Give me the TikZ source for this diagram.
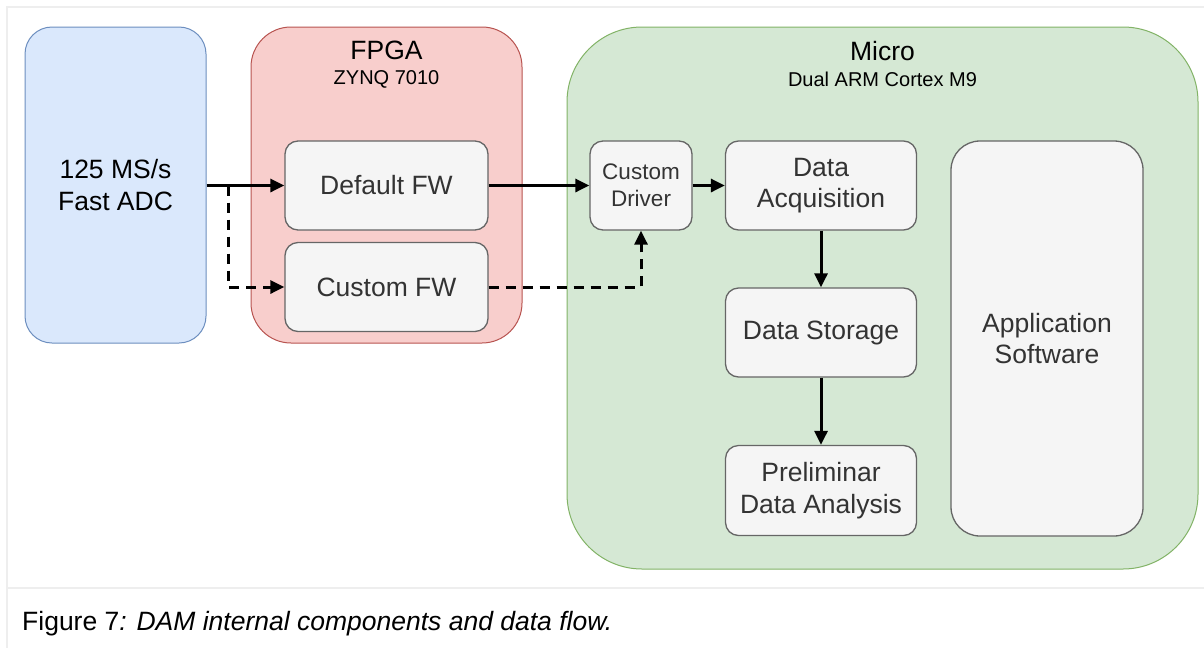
\documentclass[tikz,border=0pt]{standalone}
\usepackage{fontspec}
\setmainfont{Liberation Sans}
\usetikzlibrary{arrows.meta}
\definecolor{adcfill}{HTML}{DAE8FC}
\definecolor{adcline}{HTML}{6C8EBF}
\definecolor{fpgafill}{HTML}{F8CECC}
\definecolor{fpgaline}{HTML}{B85450}
\definecolor{microfill}{HTML}{D5E8D4}
\definecolor{microline}{HTML}{82B366}
\definecolor{innerfill}{HTML}{F5F5F5}
\definecolor{innerline}{HTML}{666666}
\definecolor{innertext}{HTML}{333333}
\definecolor{framecol}{HTML}{EEEEEE}
\newcommand{\bigtxt}{\fontsize{26.5}{31.5}\selectfont}
\newcommand{\midtxt}{\fontsize{22.5}{27}\selectfont}
\newcommand{\smalltxt}{\fontsize{20}{24}\selectfont}
\newcommand{\captxt}{\fontsize{26.5}{30}\selectfont}
\tikzset{
  outerbox/.style={draw, line width=1pt, inner sep=0pt, align=center},
  innerbox/.style={draw=innerline, fill=innerfill, line width=1.3pt, rounded corners=13pt,
    inner sep=0pt, align=center, text=innertext, font=\bigtxt},
  arr/.style={line width=3pt, -{Triangle[length=14pt,width=13pt]}},
  dasharr/.style={arr, dash pattern=on 10pt off 7pt},
  titletxt/.style={inner sep=0pt, align=center}
}
\begin{document}
\begin{tikzpicture}[x=1pt,y=-1pt]
\useasboundingbox (0,0) rectangle (1204,648);
\fill[white] (0,0) rectangle (1204,648);
% frame
\draw[framecol, line width=2.5pt] (7,648) -- (7,7) -- (1204,7);
\draw[framecol, line width=2.5pt] (7,588) -- (1204,588);
% outer containers
\node[outerbox, draw=adcline, fill=adcfill, rounded corners=27pt, minimum width=181pt, minimum height=316pt, font=\bigtxt]
  (adc) at (115.5,185) {125 MS/s\\Fast ADC};
\node[outerbox, draw=fpgaline, fill=fpgafill, rounded corners=40pt, minimum width=271pt, minimum height=316pt]
  (fpga) at (386.5,185) {};
\node[outerbox, draw=microline, fill=microfill, rounded corners=75pt, minimum width=631pt, minimum height=542pt]
  (micro) at (882.5,298) {};
% titles
\node[titletxt, font=\bigtxt] (fpgat) at (386.5,50) {FPGA};
\node[titletxt, font=\smalltxt] (fpgas) at (386.5,79) {ZYNQ 7010};
\node[titletxt, font=\bigtxt] (microt) at (882.5,51) {Micro};
\node[titletxt, font=\smalltxt] (micros) at (882.5,79) {Dual ARM Cortex M9};
% inner boxes
\node[innerbox, minimum width=203pt, minimum height=89pt] (dfw) at (386.5,185.5) {Default FW};
\node[innerbox, minimum width=203pt, minimum height=89pt] (cfw) at (386.5,287) {Custom FW};
\node[innerbox, minimum width=102pt, minimum height=89pt, font=\midtxt] (drv) at (641,185.5) {Custom\\Driver};
\node[innerbox, minimum width=191pt, minimum height=89pt] (acq) at (821,185.5) {Data\\Acquisition};
\node[innerbox, minimum width=191pt, minimum height=89pt] (sto) at (821,332.5) {Data Storage};
\node[innerbox, minimum width=191pt, minimum height=90pt] (pre) at (821,490.5) {Preliminar\\Data Analysis};
\node[innerbox, rounded corners=29pt, minimum width=192pt, minimum height=395pt] (app) at (1047,338.5) {Application\\Software};
% connectors
\coordinate (split) at (228.5,185.5);
\draw[arr] (adc.east |- dfw.west) -- (dfw.west);
\draw[dasharr] (split) |- (cfw.west);
\draw[arr] (dfw.east) -- (drv.west);
\draw[dasharr] (cfw.east) -| (drv.south);
\draw[arr] (drv.east) -- (acq.west);
\draw[arr] (acq.south) -- (sto.north);
\draw[arr] (sto.south) -- (pre.north);
% caption
\node[anchor=base west, inner sep=0pt, font=\captxt] (cap) at (22,630) {Figure 7\textit{: DAM internal components and data flow.}};
\end{tikzpicture}
\end{document}
